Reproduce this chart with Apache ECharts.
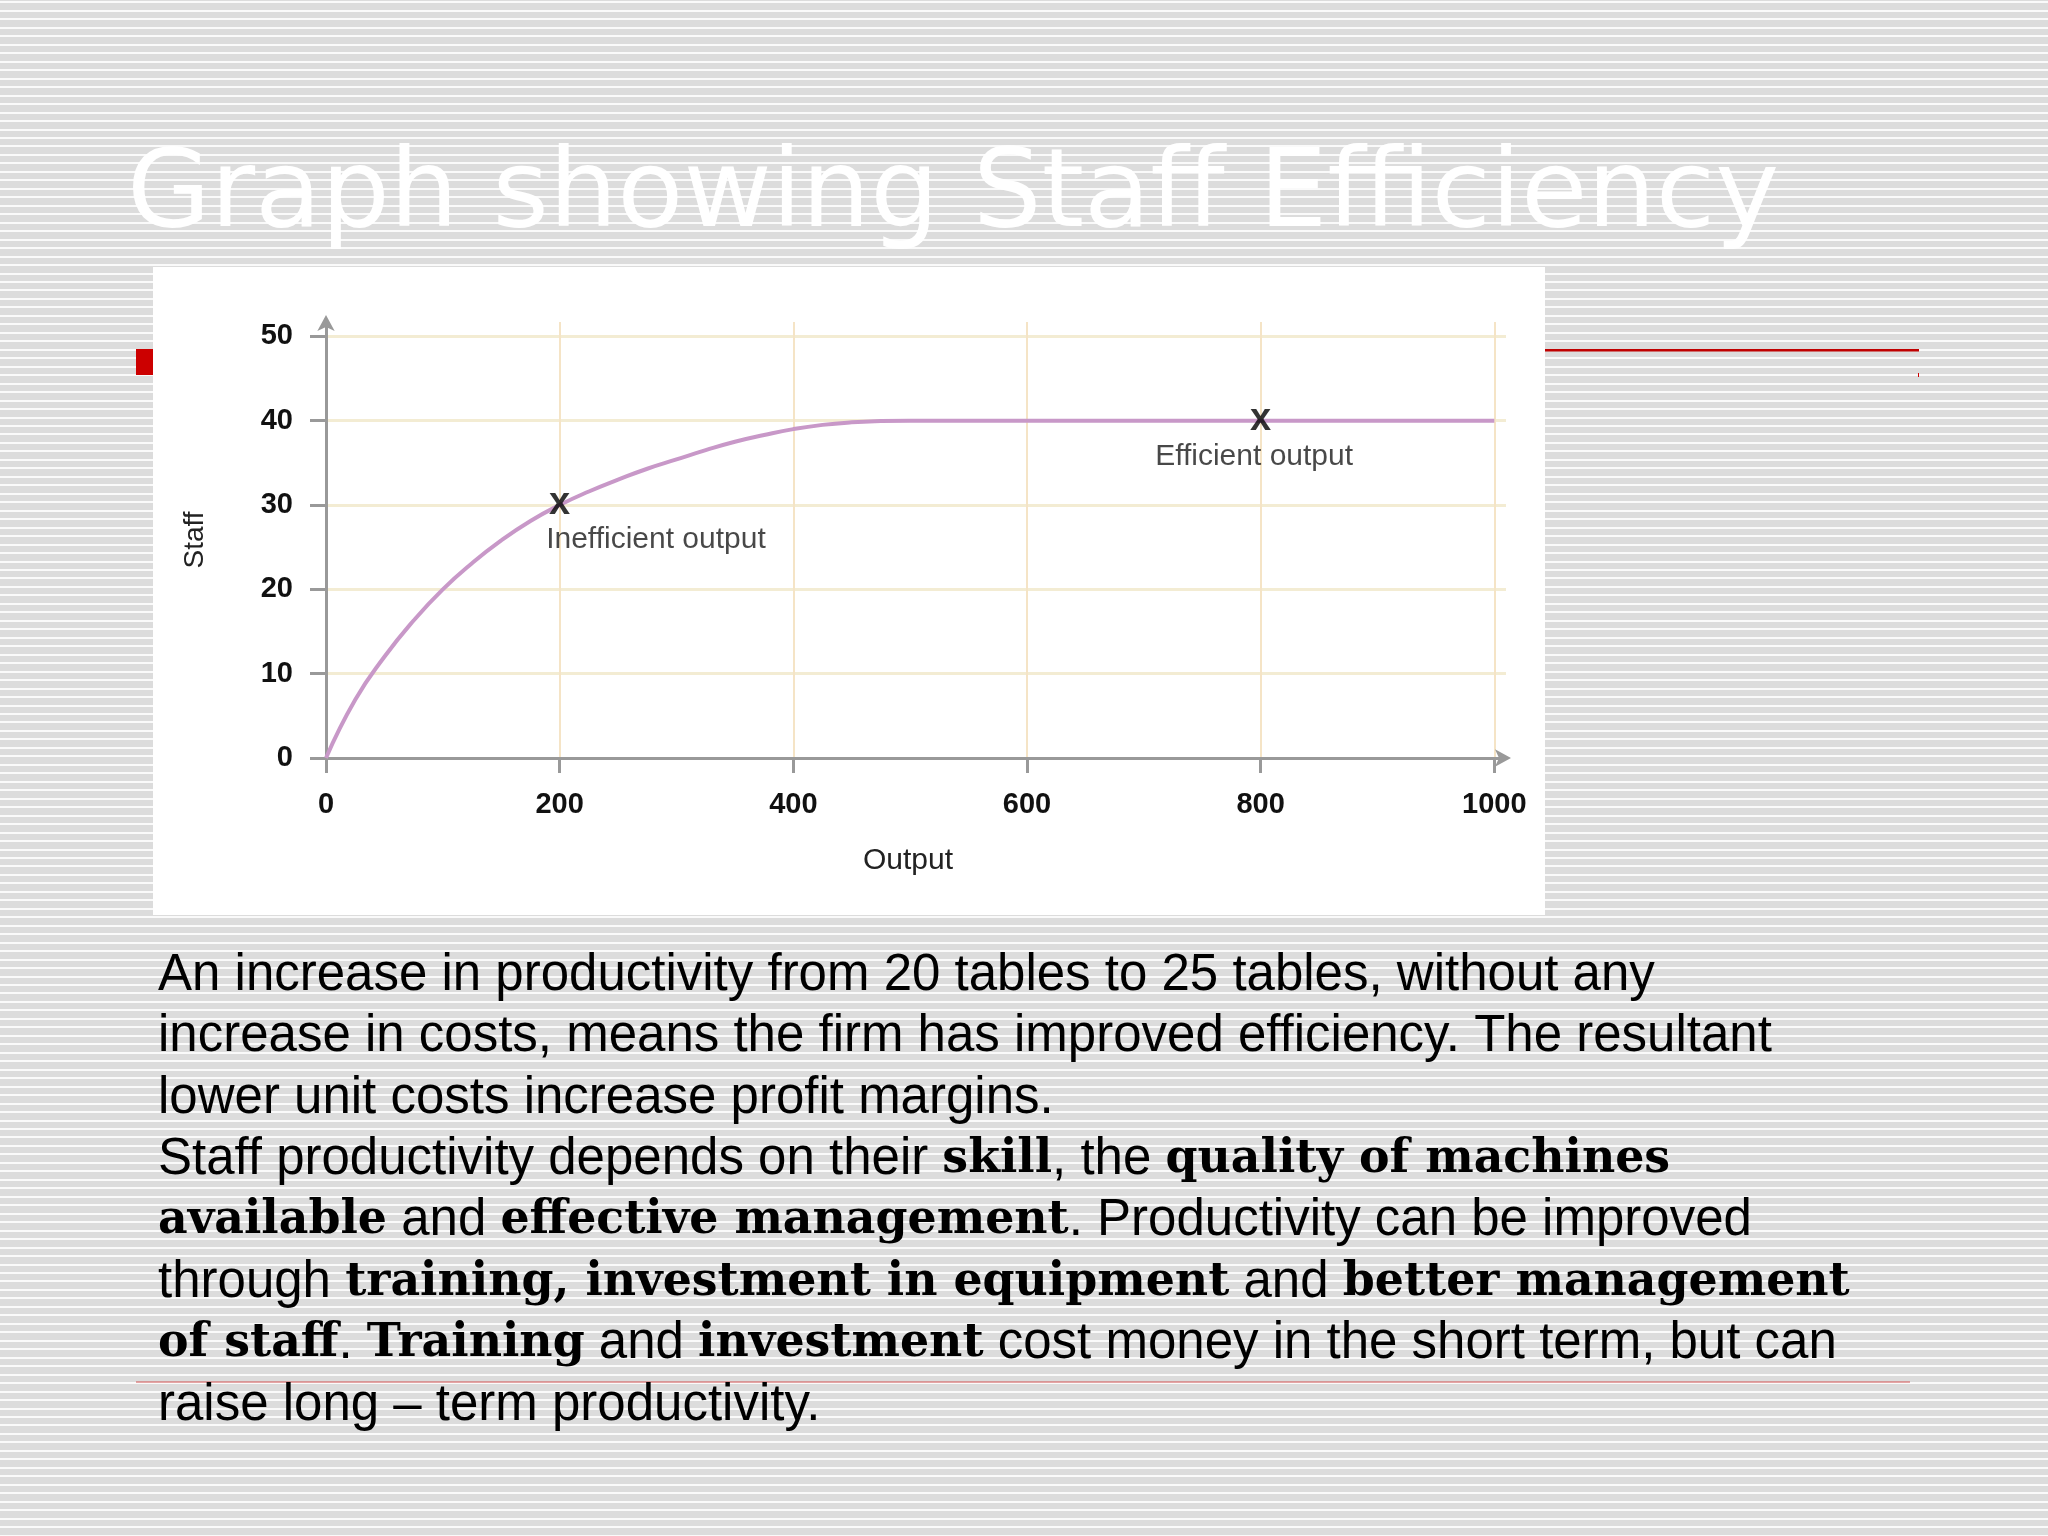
<!DOCTYPE html>
<html><head><meta charset="utf-8">
<script src="https://cdn.jsdelivr.net/npm/echarts@6/dist/echarts.min.js"></script>
<style>
html,body{margin:0;padding:0;}
body{width:2048px;height:1536px;overflow:hidden;
background:repeating-linear-gradient(to bottom,#dcdcdc 0px,#dcdcdc 1.5px,#fafafa 1.5px,#fafafa 3.5px,#dcdcdc 3.5px,#dcdcdc 8.47px);}
#c{width:2048px;height:1536px;}
</style></head><body><div id="c"></div>
<script>
// ---- data ----
const outputX = [0, 25, 50, 75, 100, 125, 150, 175, 200, 225, 250, 275, 300, 325, 350, 375, 400, 425, 450, 475, 500, 600, 700, 800, 900, 1000];
const staffY  = [0, 6.9, 12, 16.3, 20, 23.1, 25.8, 28.1, 30, 31.6, 33, 34.3, 35.4, 36.5, 37.5, 38.3, 39, 39.5, 39.8, 39.95, 40, 40, 40, 40, 40, 40];
const xTicks = [0, 200, 400, 600, 800, 1000];
const yTicks = [0, 10, 20, 30, 40, 50];
const pointX = [200, 800];
const pointY = [30, 40];
const pointNames = ['Inefficient output', 'Efficient output'];
const titleText = 'Graph showing Staff Efficiency';
const xName = 'Output';
const yName = 'Staff';
const bodyLines = [
  [['n','An increase in productivity from 20 tables to 25 tables, without any']],
  [['n','increase in costs, means the firm has improved efficiency. The resultant']],
  [['n','lower unit costs increase profit margins.']],
  [['n','Staff productivity depends on their '],['b','skill'],['n',', the '],['b','quality of machines']],
  [['b','available'],['n',' and '],['b','effective management'],['n','. Productivity can be improved']],
  [['n','through '],['b','training, investment in equipment'],['n',' and '],['b','better management']],
  [['b','of staff'],['n','. '],['b','Training'],['n',' and '],['b','investment'],['n',' cost money in the short term, but can']],
  [['n','raise long \u2013 term productivity.']]
];

const richBody = bodyLines.map(l => l.map(s => '{' + s[0] + '|' + s[1] + '}').join('')).join('\n');
const labelOffsets = [[-13, 35], [-105, 37]];

const chart = echarts.init(document.getElementById('c'), null, {width: 2048, height: 1536});
const axisGrey = '#999999';
chart.setOption({
  animation: false,
  backgroundColor: 'transparent',
  grid: {left: 326, right: 542, top: 322, bottom: 778, containLabel: false},
  xAxis: {
    type: 'value', min: 0, max: 1010, interval: 200,
    name: xName, nameLocation: 'middle', nameGap: 88,
    nameTextStyle: {fontSize: 30, color: '#222', fontFamily: 'Liberation Sans', padding: [0, 16, 0, 0]},
    axisLine: {show: true, onZero: false, symbol: ['none', 'arrow'], symbolSize: [13, 16], symbolOffset: [0, 5],
      lineStyle: {color: axisGrey, width: 3}},
    axisTick: {show: true, length: 15, customValues: xTicks, lineStyle: {color: axisGrey, width: 3}},
    axisLabel: {customValues: xTicks, formatter: v => String(v), margin: 32, fontSize: 29, fontWeight: 'bold', color: '#111', fontFamily: 'Liberation Sans'},
    splitLine: {show: true, lineStyle: {color: '#f5e4c6', width: 2}}
  },
  yAxis: {
    type: 'value', min: 0, max: 51.7, interval: 10,
    name: yName, nameLocation: 'middle', nameGap: 117, nameRotate: 90,
    nameTextStyle: {fontSize: 28, color: '#222', fontFamily: 'Liberation Sans'},
    axisLine: {show: true, onZero: false, symbol: ['none', 'arrow'], symbolSize: [13, 16], symbolOffset: [0, 7],
      lineStyle: {color: axisGrey, width: 3}},
    axisTick: {show: true, length: 16, customValues: yTicks, lineStyle: {color: axisGrey, width: 3}},
    axisLabel: {customValues: yTicks, formatter: v => String(v), margin: 33, fontSize: 29, fontWeight: 'bold', color: '#111', fontFamily: 'Liberation Sans'},
    splitLine: {show: true, lineStyle: {color: '#f3ecd3', width: 3}}
  },
  series: [
    {type: 'line', data: outputX.map((x, i) => [x, staffY[i]]), smooth: 0.5,
     symbol: 'none', lineStyle: {color: '#c898c8', width: 4}, z: 3},
    {type: 'scatter', data: pointX.map((x, i) => ({value: [x, pointY[i]], name: pointNames[i]})),
     symbolSize: 1, itemStyle: {color: 'rgba(0,0,0,0)'}, z: 5,
     label: {show: true, position: 'inside', formatter: 'x', fontSize: 38, fontWeight: 'bold', color: '#000',
       fontFamily: 'Liberation Sans', offset: [0, -1], textBorderWidth: 0}},
    {type: 'scatter', data: pointX.map((x, i) => ({value: [x, pointY[i]], name: pointNames[i],
       label: {position: labelOffsets[i]}})),
     symbolSize: 1, itemStyle: {color: 'rgba(0,0,0,0)'}, z: 5,
     label: {show: true, formatter: '{b}', fontSize: 30, color: '#1a1a1a', fontFamily: 'Liberation Sans',
       align: 'left', verticalAlign: 'middle', textBorderWidth: 0}}
  ],
  graphic: [
    {type: 'rect', z: -1, shape: {x: 136, y: 349, width: 17, height: 26}, style: {fill: '#cc0000'}},
    {type: 'rect', z: -1, shape: {x: 153, y: 267, width: 1392, height: 648}, style: {fill: '#ffffff'}},
    {type: 'rect', z: -1, shape: {x: 1545, y: 349, width: 374, height: 2.5}, style: {fill: '#c00000'}},
    {type: 'rect', z: -1, shape: {x: 1918, y: 373, width: 1, height: 4}, style: {fill: '#cc0000'}},
    {type: 'rect', z: -1, shape: {x: 136, y: 1381.5, width: 1774, height: 1}, style: {fill: '#d05050'}},
    {type: 'text', z: 1, style: {text: titleText, x: 127, y: 198, fill: '#ffffff', fontSize: 108,
      fontFamily: 'DejaVu Sans', align: 'left', verticalAlign: 'middle'}},
    {type: 'text', z: 1, style: {text: richBody, x: 158, y: 945, align: 'left', verticalAlign: 'top',
      fontSize: 51, fontFamily: 'Liberation Sans', fill: '#000', lineHeight: 61.4,
      rich: {
        n: {fontSize: 51, fontFamily: 'Liberation Sans', fill: '#000', color: '#000', lineHeight: 61.4},
        b: {fontSize: 45.8, fontFamily: 'DejaVu Serif', fontWeight: 'bold', fill: '#000', color: '#000', lineHeight: 61.4}
      }}}
  ]
});
</script></body></html>
